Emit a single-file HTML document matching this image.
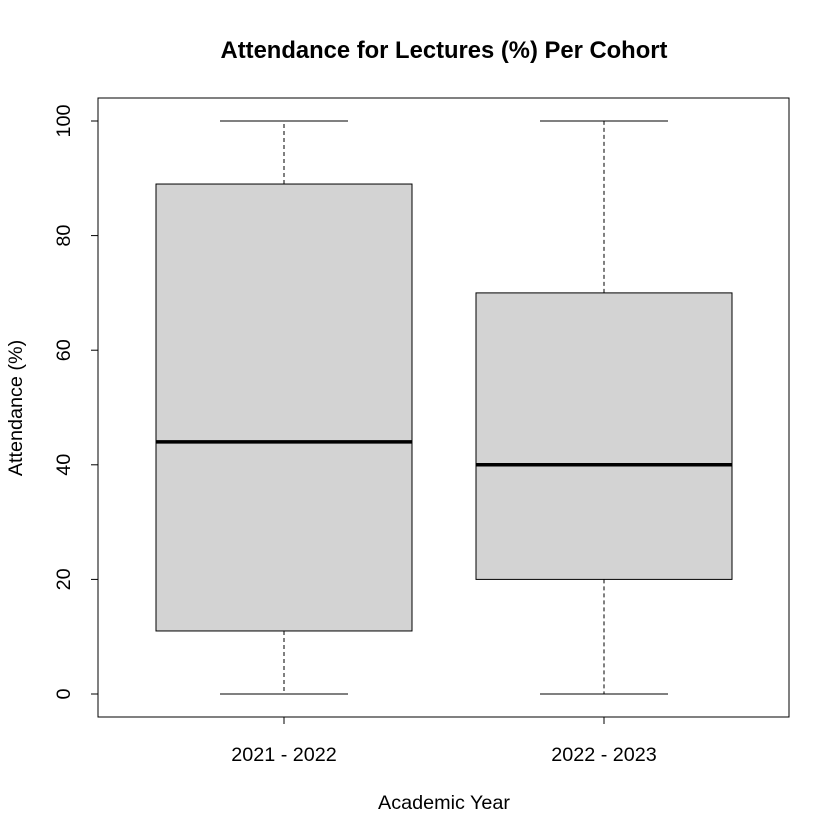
<!DOCTYPE html>
<html><head><meta charset="utf-8"><style>
body{margin:0;background:#fff}
svg{display:block;font-family:"Liberation Sans",Arial,sans-serif}
</style></head><body>
<svg id="chart" width="840" height="840" viewBox="0 0 840 840">
<rect width="840" height="840" fill="#fff"/>
<text x="444" y="58" text-anchor="middle" font-size="23.8" font-weight="bold">Attendance for Lectures (%) Per Cohort</text>
<rect x="98" y="98" width="691" height="619" fill="none" stroke="#000"/>
<text x="444" y="809" text-anchor="middle" font-size="19.8">Academic Year</text>
<text transform="translate(22,408) rotate(-90)" text-anchor="middle" font-size="19.8">Attendance (%)</text>
<g id="yaxis"></g>
<g id="xaxis"></g>
<g id="boxes"></g>
</svg>
<script>
const categories = ["2021 - 2022", "2022 - 2023"];
const mins = [0, 0];
const q1s = [11, 20];
const medians = [44, 40];
const q3s = [89, 70];
const maxs = [100, 100];
const yTicks = [0, 20, 40, 60, 80, 100];

const NS = "http://www.w3.org/2000/svg";
function y(v){ return 694 - v * 5.73; }
function xc(i){ return 284 + i * 320; }
function mk(tag, attrs, parent){
  const e = document.createElementNS(NS, tag);
  for (const k in attrs) e.setAttribute(k, attrs[k]);
  parent.appendChild(e);
  return e;
}
const ya = document.getElementById("yaxis");
yTicks.forEach(t => {
  const l = mk("line", {x1:98, x2:91, y1:y(t), y2:y(t), stroke:"#000"}, ya);
  
  
  const tx = mk("text", {transform:`translate(70,${y(t)}) rotate(-90)`, "text-anchor":"middle", "font-size":"19.8"}, ya);
  tx.textContent = t;
  
  
});
const xa = document.getElementById("xaxis");
const bx = document.getElementById("boxes");
categories.forEach((c, i) => {
  const cx = xc(i);
  const l = mk("line", {x1:cx, x2:cx, y1:717, y2:724, stroke:"#000"}, xa);
  
  
  const tx = mk("text", {x:cx, y:761, "text-anchor":"middle", "font-size":"19.8"}, xa);
  tx.textContent = c;
  
  
  const g = mk("g", {}, bx);
  
  
  mk("line", {x1:cx, x2:cx, y1:y(q3s[i]), y2:y(maxs[i]), stroke:"#000", "stroke-dasharray":"4,3"}, g);
  mk("line", {x1:cx, x2:cx, y1:y(q1s[i]), y2:y(mins[i]), stroke:"#000", "stroke-dasharray":"4,3"}, g);
  mk("line", {x1:cx-64, x2:cx+64, y1:y(maxs[i]), y2:y(maxs[i]), stroke:"#000"}, g);
  mk("line", {x1:cx-64, x2:cx+64, y1:y(mins[i]), y2:y(mins[i]), stroke:"#000"}, g);
  mk("rect", {x:cx-128, y:y(q3s[i]), width:256, height:y(q1s[i])-y(q3s[i]), fill:"#d3d3d3", stroke:"#000"}, g);
  mk("line", {x1:cx-128, x2:cx+128, y1:y(medians[i]), y2:y(medians[i]), stroke:"#000", "stroke-width":3.5}, g);
});
</script>
</body></html>
